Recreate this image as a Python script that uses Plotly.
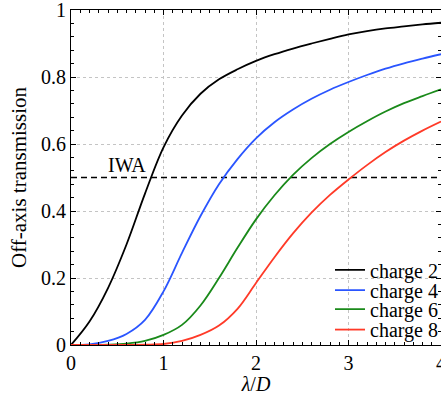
import plotly.graph_objects as go

x_vals = [0.0, 0.2, 0.4, 0.6, 0.8, 1.0, 1.2, 1.4, 1.6, 1.8, 2.0,
          2.2, 2.4, 2.6, 2.8, 3.0, 3.2, 3.4, 3.6, 3.8, 4.0]

charge2 = [0.0, 0.07, 0.17, 0.30, 0.452, 0.59, 0.685, 0.75, 0.793, 0.823, 0.848,
           0.868, 0.885, 0.90, 0.914, 0.927, 0.937, 0.945, 0.951, 0.957, 0.962]
charge4 = [0.0, 0.002, 0.012, 0.033, 0.075, 0.16, 0.275, 0.385, 0.48, 0.555, 0.617,
           0.665, 0.703, 0.735, 0.762, 0.785, 0.806, 0.825, 0.841, 0.855, 0.868]
charge6 = [0.0, 0.0, 0.001, 0.004, 0.012, 0.03, 0.06, 0.118, 0.2, 0.29, 0.375,
           0.447, 0.508, 0.558, 0.60, 0.636, 0.668, 0.697, 0.722, 0.743, 0.763]
charge8 = [0.0, 0.0, 0.0, 0.0, 0.001, 0.003, 0.012, 0.03, 0.058, 0.108, 0.185,
           0.262, 0.333, 0.395, 0.448, 0.494, 0.537, 0.576, 0.61, 0.64, 0.667]

series_names = ["charge 2", "charge 4", "charge 6", "charge 8"]
series_colors = ["#000000", "#2a55ff", "#1a8a1a", "#ff3a28"]

iwa_x = [0.0, 4.0]
iwa_y = [0.5, 0.5]
iwa_label = "IWA"

x_ticks = [0, 1, 2, 3, 4]
y_ticks = [0, 0.2, 0.4, 0.6, 0.8, 1]
y_tick_labels = ["0", "0.2", "0.4", "0.6", "0.8", "1"]

FONT = "Liberation Serif"
FS = 20

fig = go.Figure()
fig.add_trace(go.Scatter(x=iwa_x, y=iwa_y, mode="lines", showlegend=False,
                         line=dict(color="black", width=1.6, dash="6px,4px")))
legend_ids = ["legend", "legend2", "legend3", "legend4"]
for name, ys, col, lg in zip(series_names, [charge2, charge4, charge6, charge8],
                             series_colors, legend_ids):
    fig.add_trace(go.Scatter(x=x_vals, y=ys, mode="lines", name=name, legend=lg,
                             line=dict(color=col, width=1.8, shape="spline", smoothing=1.0)))

fig.add_annotation(x=0.6, y=0.5, xref="x", yref="y", text=iwa_label, showarrow=False,
                   xanchor="center", yanchor="bottom", yshift=0,
                   font=dict(family=FONT, size=FS, color="black"))

axis_common = dict(showline=True, linecolor="black", linewidth=1, mirror="ticks",
                   ticks="inside", ticklen=5, tickcolor="black", tickwidth=1,
                   showgrid=True, gridcolor="#c4c4c4", griddash="dot", gridwidth=1,
                   zeroline=False, ticklabeloverflow="allow",
                   tickfont=dict(family=FONT, size=FS, color="black"))

fig.update_xaxes(range=[0, 4], tickvals=x_ticks,
                 minor=dict(dtick=0.1, ticks="inside", ticklen=3, tickcolor="black", showgrid=False),
                 title=dict(text="<i>λ</i>/<i>D</i>", font=dict(family=FONT, size=FS, color="black"), standoff=6),
                 **axis_common)
fig.update_yaxes(range=[0, 1], tickvals=y_ticks, ticktext=y_tick_labels,
                 minor=dict(dtick=0.04, ticks="inside", ticklen=3, tickcolor="black", showgrid=False),
                 title=dict(text="Off-axis transmission", font=dict(family=FONT, size=21, color="black"), standoff=8),
                 **axis_common)

row_y = [0.224, 0.164, 0.107, 0.046]
legend_layout = {}
for lg, yy in zip(legend_ids, row_y):
    legend_layout[lg] = dict(x=0.70, y=yy, xanchor="left", yanchor="middle",
                             bgcolor="rgba(0,0,0,0)", borderwidth=0,
                             font=dict(family=FONT, size=FS, color="black"), itemwidth=30)

fig.update_layout(
    width=441, height=395,
    margin=dict(l=71, r=0, t=10, b=50, autoexpand=False),
    plot_bgcolor="white", paper_bgcolor="white",
    font=dict(family=FONT, size=FS, color="black"),
    **legend_layout,
)

fig.write_html("out.html", config={"displayModeBar": False},
               post_script="document.body.style.margin='0px';document.body.style.overflow='hidden';")
